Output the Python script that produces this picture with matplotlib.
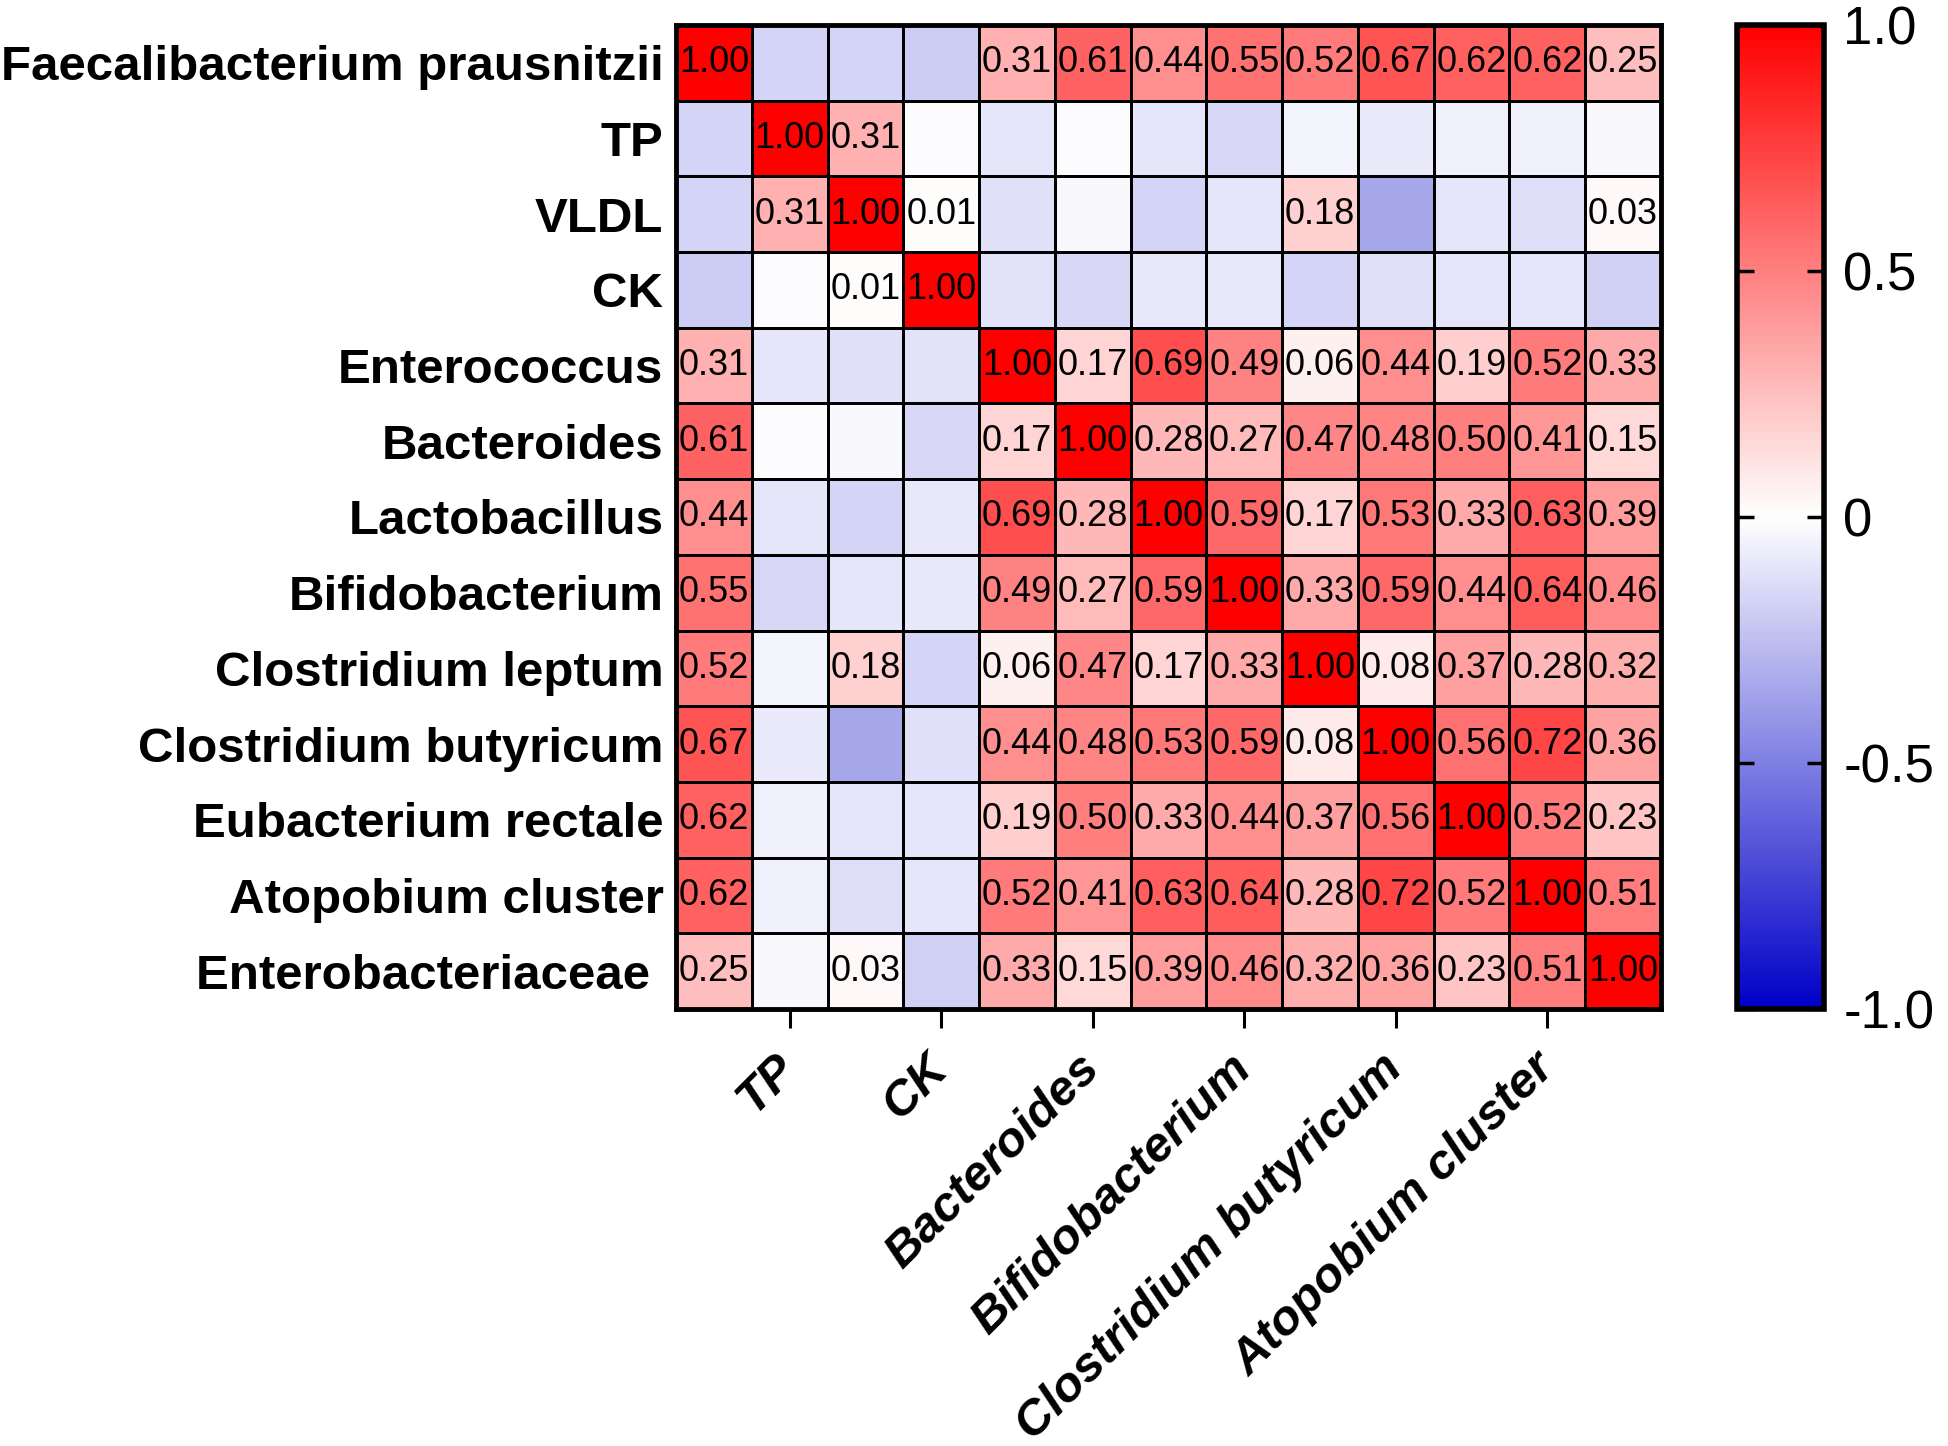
import numpy as np
import matplotlib
matplotlib.use("Agg")
import matplotlib.pyplot as plt
from matplotlib.colors import LinearSegmentedColormap

plt.rcParams['font.family'] = ['Liberation Sans', 'DejaVu Sans']

labels = ["Faecalibacterium prausnitzii", "TP", "VLDL", "CK", "Enterococcus",
          "Bacteroides", "Lactobacillus", "Bifidobacterium", "Clostridium leptum",
          "Clostridium butyricum", "Eubacterium rectale", "Atopobium cluster",
          "Enterobacteriaceae"]

r_faecali = [1.00, -0.17, -0.17, -0.20, 0.31, 0.61, 0.44, 0.55, 0.52, 0.67, 0.62, 0.62, 0.25]
r_tp      = [-0.17, 1.00, 0.31, -0.01, -0.10, -0.01, -0.10, -0.15, -0.04, -0.08, -0.06, -0.06, -0.03]
r_vldl    = [-0.17, 0.31, 1.00, 0.01, -0.12, -0.03, -0.17, -0.10, 0.18, -0.35, -0.10, -0.13, 0.03]
r_ck      = [-0.20, -0.01, 0.01, 1.00, -0.11, -0.15, -0.09, -0.09, -0.17, -0.12, -0.10, -0.10, -0.18]
r_entero  = [0.31, -0.10, -0.12, -0.11, 1.00, 0.17, 0.69, 0.49, 0.06, 0.44, 0.19, 0.52, 0.33]
r_bact    = [0.61, -0.01, -0.03, -0.15, 0.17, 1.00, 0.28, 0.27, 0.47, 0.48, 0.50, 0.41, 0.15]
r_lacto   = [0.44, -0.10, -0.17, -0.09, 0.69, 0.28, 1.00, 0.59, 0.17, 0.53, 0.33, 0.63, 0.39]
r_bifido  = [0.55, -0.15, -0.10, -0.09, 0.49, 0.27, 0.59, 1.00, 0.33, 0.59, 0.44, 0.64, 0.46]
r_clep    = [0.52, -0.04, 0.18, -0.17, 0.06, 0.47, 0.17, 0.33, 1.00, 0.08, 0.37, 0.28, 0.32]
r_cbut    = [0.67, -0.08, -0.35, -0.12, 0.44, 0.48, 0.53, 0.59, 0.08, 1.00, 0.56, 0.72, 0.36]
r_eubac   = [0.62, -0.06, -0.10, -0.10, 0.19, 0.50, 0.33, 0.44, 0.37, 0.56, 1.00, 0.52, 0.23]
r_atopo   = [0.62, -0.06, -0.13, -0.10, 0.52, 0.41, 0.63, 0.64, 0.28, 0.72, 0.52, 1.00, 0.51]
r_enterob = [0.25, -0.03, 0.03, -0.18, 0.33, 0.15, 0.39, 0.46, 0.32, 0.36, 0.23, 0.51, 1.00]

M = np.array([r_faecali, r_tp, r_vldl, r_ck, r_entero, r_bact, r_lacto, r_bifido,
              r_clep, r_cbut, r_eubac, r_atopo, r_enterob])
n = len(labels)

cmap = LinearSegmentedColormap.from_list("bwr_gp", [(0.0, 0.0, 0.78), (1, 1, 1), (1, 0, 0)])

fig = plt.figure(figsize=(19.49, 14.46), dpi=100)
W, H = 1949, 1446
ax = fig.add_axes([676 / W, 1 - 1009 / H, 985 / W, 984 / H])

mesh = ax.pcolormesh(np.arange(n + 1), np.arange(n + 1), M, cmap=cmap, vmin=-1, vmax=1,
                     edgecolors='black', linewidth=1.8)
ax.set_xlim(0, n)
ax.set_ylim(n, 0)

for i in range(n):
    for j in range(n):
        v = M[i, j]
        if v >= 0:
            ax.text(j + 0.5, i + 0.5, f"{v:.2f}", ha='center', va='center',
                    fontsize=26, color='black')

ax.set_yticks(np.arange(n) + 0.5)
ax.set_yticklabels([l if l != "Enterobacteriaceae" else l + " " for l in labels],
                   fontsize=35.5, fontweight='bold')
ax.tick_params(axis='y', length=0, pad=9)

xt = [1, 3, 5, 7, 9, 11]
ax.set_xticks(np.array(xt) + 0.5)
ax.set_xticklabels([labels[k] for k in xt], fontsize=35.5, fontweight='bold',
                   fontstyle='italic', rotation=45, ha='right', va='center',
                   rotation_mode='anchor')
ax.tick_params(axis='x', length=14, width=2.2, pad=24, direction='out')
for s in ax.spines.values():
    s.set_linewidth(3.5)

cax = fig.add_axes([1737 / W, 1 - 1009 / H, 87 / W, 984 / H])
cb = fig.colorbar(mesh, cax=cax)
cb.set_ticks([-1, -0.5, 0, 0.5, 1])
cb.set_ticklabels(['-1.0', '-0.5', '0', '0.5', '1.0'])
cb.outline.set_linewidth(4)
cax.tick_params(direction='in', left=True, right=True, length=12, width=2.5,
                labelsize=38, pad=14)

fig.savefig("out.png", dpi=100)
